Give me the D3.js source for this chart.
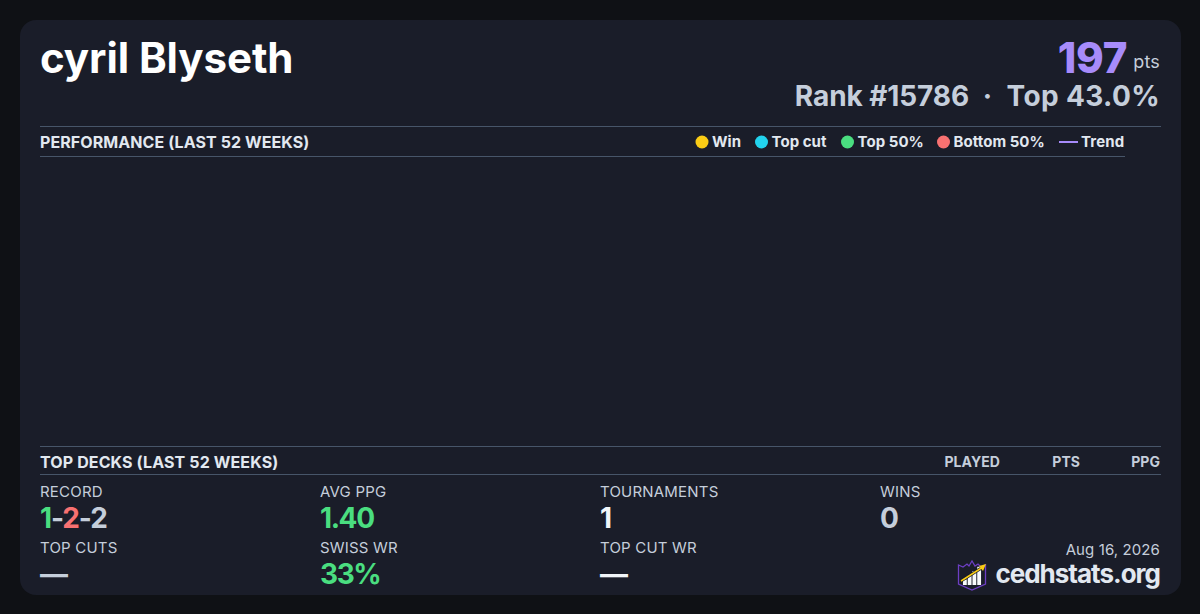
<!DOCTYPE html>
<html><head><meta charset="utf-8">
<script src="https://cdn.jsdelivr.net/npm/d3@7/dist/d3.min.js"></script>
<style>html,body{margin:0;padding:0;background:#0f1115;overflow:hidden}svg{display:block}text{font-family:Inter,sans-serif}</style>
</head><body><svg id="c" width="1200" height="614"></svg>
<script>
const playerName = "cyril Blyseth";
const points = "197";
const ptsUnit = "pts";
const rankLabel = "Rank #15786";
const rankSep = "·";
const topLabel = "Top 43.0%";
const perfTitle = "PERFORMANCE (LAST 52 WEEKS)";
const deckTitle = "TOP DECKS (LAST 52 WEEKS)";
const legendLabels = ["Win","Top cut","Top 50%","Bottom 50%","Trend"];
const legendColors = ["#facc15","#22d3ee","#4ade80","#f87171","#a78bfa"];
const deckColumns = ["PLAYED","PTS","PPG"];
const weeklyResults = [];
const statLabels = ["RECORD","AVG PPG","TOURNAMENTS","WINS","TOP CUTS","SWISS WR","TOP CUT WR"];
const statValues = [null,"1.40","1","0","—","33%","—"];
const statColors = [null,"#4ade80","#f1f5f9","#c5cedb","#c5cedb","#4ade80","#f1f5f9"];
const recordParts = ["1","-","2","-","2"];
const recordColors = ["#4ade80","#c5cedb","#f87171","#c5cedb","#c5cedb"];
const dateLabel = "Aug 16, 2026";
const siteLabel = "cedhstats.org";
const logoBars = [4,7,10,13];

const svg = d3.select("#c");
svg.append("rect").attr("x",20).attr("y",20).attr("width",1161).attr("height",575).attr("rx",16).attr("fill","#1a1d29");
const T=(x,y,s,size,w,fill,anchor,ls)=>svg.append("text").attr("x",x).attr("y",y).attr("font-size",size).attr("font-weight",w).attr("fill",fill).attr("text-anchor",anchor||"start").attr("letter-spacing",ls||0).style("white-space","pre").text(s);
T(40,73,playerName,42,700,"#ffffff","start",-0.08);
T(1127,73,points,42,800,"#a78bfa","end",-0.35);
T(1160,68,ptsUnit,18,400,"#c5cedb","end",0.2);
T(969,106,rankLabel,28,700,"#c5cedb","end",-0.1);
T(987.5,106,rankSep,28,700,"#c5cedb","middle");
T(1160,106,topLabel,28,700,"#c5cedb","end",0.35);
const rule=(x1,x2,y)=>svg.append("line").attr("x1",x1).attr("x2",x2).attr("y1",y+.5).attr("y2",y+.5).attr("stroke","#475569");
rule(40,1161,126);rule(40,1125,156);rule(40,1161,446);rule(40,1161,474);
T(40,148,perfTitle,16,700,"#e2e8f0","start",0.08);
T(40,468,deckTitle,16,700,"#e2e8f0","start",0.12);
// legend
const legendX=d3.scaleOrdinal().domain(legendLabels).range([702,761.5,847.5,943.5,1059]);
legendLabels.forEach((l,i)=>{const x=legendX(l);
 if(l==="Trend"){svg.append("line").attr("x1",x).attr("x2",x+19).attr("y1",142).attr("y2",142).attr("stroke",legendColors[i]).attr("stroke-width",2);T(x+22,147,l,15,700,"#e2e8f0","start",0.15);}
 else{svg.append("circle").attr("cx",x).attr("cy",142).attr("r",6.5).attr("fill",legendColors[i]);T(x+10,147,l,15,700,"#e2e8f0","start",0.05);}
});
// deck columns
const colX=d3.scaleOrdinal().domain(deckColumns).range([1000,1080,1160]);
deckColumns.forEach(c=>T(colX(c),467,c,14,700,"#c5cedb","end",0.05));
// stats
const sx=d3.scaleLinear().domain([0,1]).range([40,320]);
const sy=d3.scaleLinear().domain([0,1]).range([0,56]);
statLabels.forEach((l,i)=>{const col=i%4,row=Math.floor(i/4),x=sx(col),y=sy(row);
 T(x,497+y,l,15,400,"#c5cedb","start",0.2);
 if(i===0){const t=svg.append("text").attr("x",x).attr("y",528).attr("font-size",28).attr("font-weight",700).attr("letter-spacing",-1.15);
  recordParts.forEach((p,k)=>t.append("tspan").attr("fill",recordColors[k]).text(p));}
 else T(x,528+y,statValues[i],28,700,statColors[i],"start",-1.4);
});
T(1160,555,dateLabel,15,400,"#c5cedb","end",0.1);
T(1160,583,siteLabel,26,700,"#e2e8f0","end",-1.0);
// logo
const g=svg.append("g").attr("transform","translate(958,560)");
g.append("path").attr("d","M0.5 5 L5 7 L9 4 L11 6 L14 1 L17 6 L20 4 L23 7 L27.5 5 L27.5 24 L14 30 L0.5 24 Z").attr("fill","#1a1d29").attr("stroke","#6d3fc4").attr("stroke-width",1.3);
const lx=d3.scaleBand().domain(d3.range(logoBars.length)).range([4,24]).padding(.2);
logoBars.forEach((b,i)=>g.append("rect").attr("x",lx(i)).attr("y",25-b*1.4).attr("width",lx.bandwidth()).attr("height",b*1.4).attr("fill","#f8fafc"));
g.append("line").attr("x1",3).attr("y1",21).attr("x2",25).attr("y2",7).attr("stroke","#111827").attr("stroke-width",3);
g.append("line").attr("x1",3).attr("y1",21).attr("x2",25).attr("y2",7).attr("stroke","#facc15").attr("stroke-width",1.5);
g.append("path").attr("d","M28 4 L21 6 L25 11 Z").attr("fill","#facc15");
</script></body></html>
